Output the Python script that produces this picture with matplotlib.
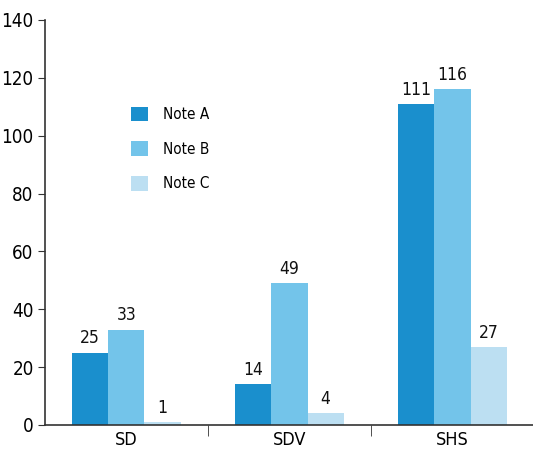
import matplotlib.pyplot as plt
import numpy as np

categories = ["SD", "SDV", "SHS"]
note_a = [25, 14, 111]
note_b = [33, 49, 116]
note_c = [1, 4, 27]
series_names = ["Note A", "Note B", "Note C"]
colors = ["#1a8fcd", "#73c4ea", "#bcdff2"]

plt.rcParams['font.family'] = ['DejaVu Sans']
plt.rcParams['font.stretch'] = 'condensed'

fig = plt.figure(figsize=(5.33, 4.5), dpi=100)
ax = fig.add_axes([0.084, 0.0556, 0.918, 0.9])

x = np.arange(len(categories))
w = 0.222
for i, (vals, name) in enumerate(zip([note_a, note_b, note_c], series_names)):
    bars = ax.bar(x + (i - 1) * w, vals, w, color=colors[i], label=name)
    for b, v in zip(bars, vals):
        ax.text(b.get_x() + b.get_width() / 2, v + 1.8, str(v),
                ha='center', va='bottom', fontsize=12.5, color='#111111')

ax.set_xlim(-0.5, 2.5)
ax.set_ylim(0, 140)
ax.set_yticks(range(0, 141, 20))
ax.tick_params(axis='y', labelsize=13.5, length=5, pad=3, color='#333333')
ax.set_xticks(x)
ax.set_xticklabels(categories)
ax.set_xticks([0.5, 1.5], minor=True)
ax.tick_params(axis='x', which='major', length=0, labelsize=13, pad=4)
ax.tick_params(axis='x', which='minor', length=8, color='#333333')
for s in ['top', 'right']:
    ax.spines[s].set_visible(False)
for s in ['left', 'bottom']:
    ax.spines[s].set_color('#333333')
    ax.spines[s].set_linewidth(1.2)

ax.legend(loc='upper left', bbox_to_anchor=(0.148, 0.82), frameon=False,
          handlelength=1.1, handleheight=1.1, labelspacing=1.25, fontsize=11,
          handletextpad=1.0)

fig.savefig("out.png", dpi=100)
